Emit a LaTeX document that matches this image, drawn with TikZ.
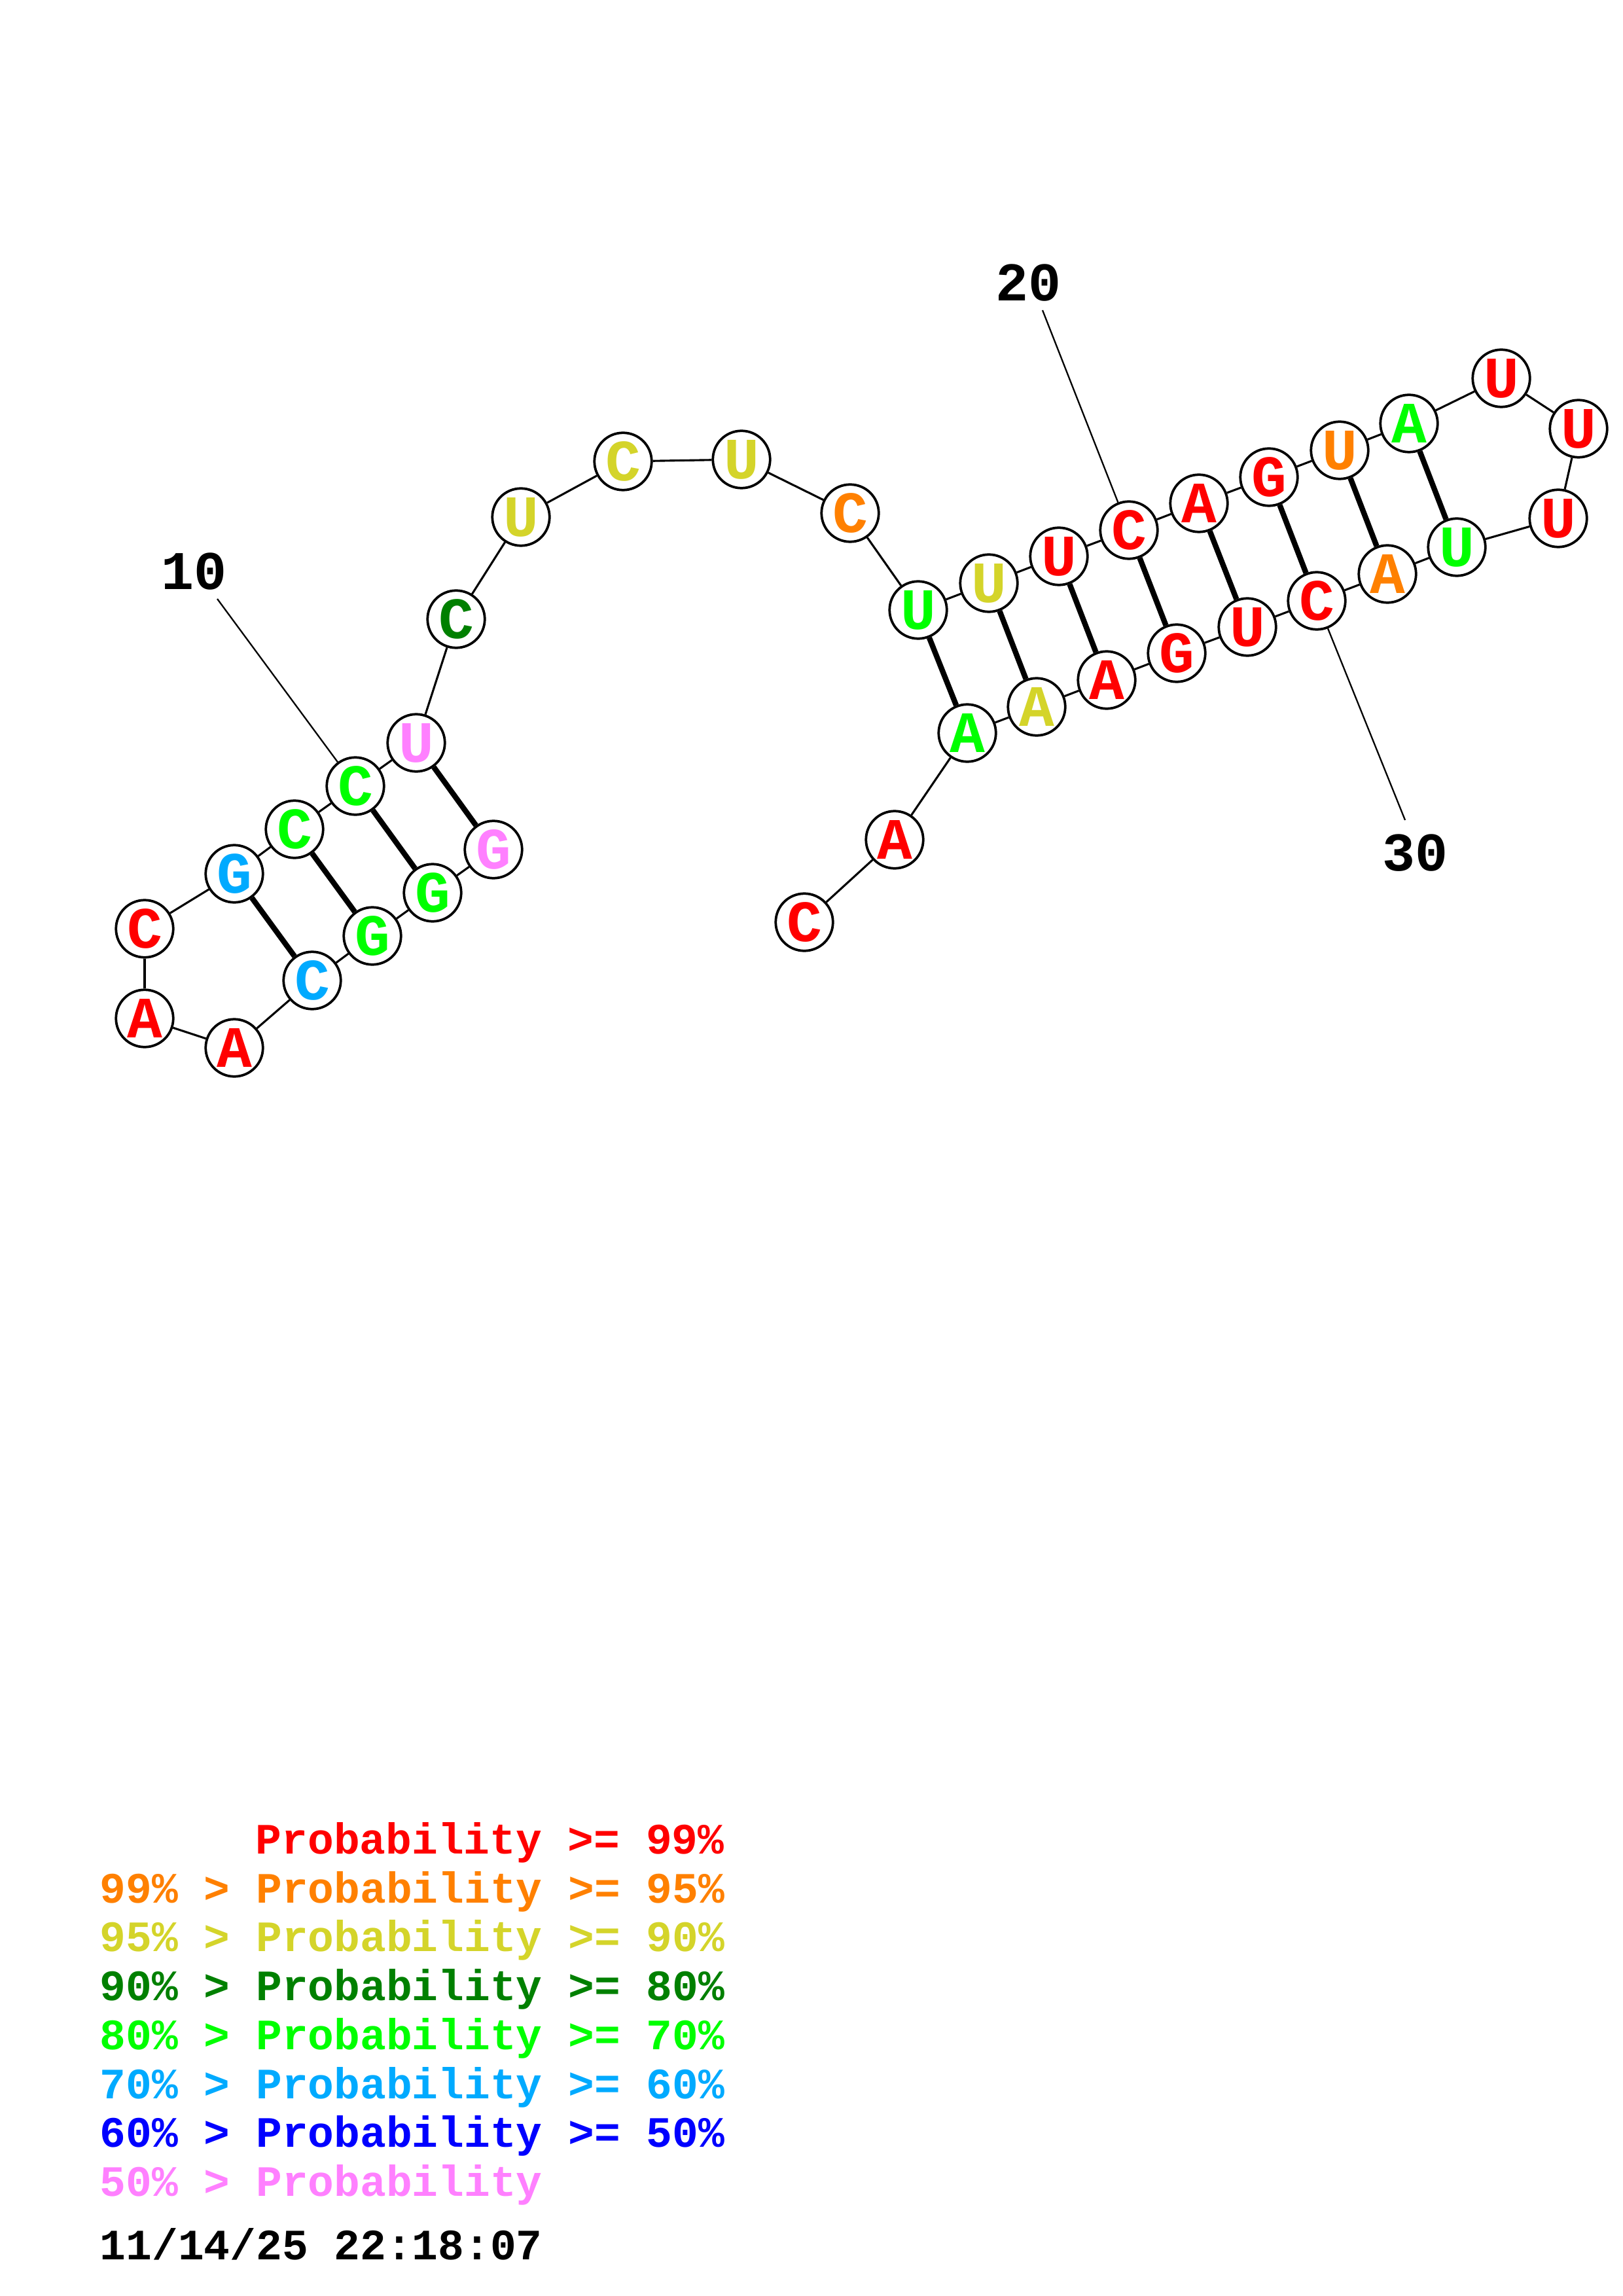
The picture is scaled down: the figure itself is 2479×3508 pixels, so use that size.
\documentclass[tikz,border=0pt]{standalone}
\usepackage{fontspec}
\newfontfamily\rnafont{Liberation Mono}
\definecolor{probred}{HTML}{FF0000}
\definecolor{probor}{HTML}{FF8000}
\definecolor{probyel}{HTML}{D4D42A}
\definecolor{probdkg}{HTML}{008000}
\definecolor{probgrn}{HTML}{00FF00}
\definecolor{probsky}{HTML}{00AAFF}
\definecolor{probblu}{HTML}{0000FF}
\definecolor{probpnk}{HTML}{FF80FF}

\begin{document}
\begin{tikzpicture}[x=0.24pt,y=-0.24pt]
\tikzset{
  nuc/.style={circle,draw,line width=0.9pt,fill=white,minimum size=21pt,inner sep=0pt,font=\rnafont\bfseries\fontsize{21.5}{21.5}\selectfont},
  backbone/.style={line width=0.75pt},
  pairing/.style={line width=2pt},
  numtick/.style={line width=0.55pt},
  numlabel/.style={inner sep=0pt,font=\rnafont\bfseries\fontsize{20}{20}\selectfont},
  legendline/.style={anchor=base west,inner sep=0pt,font=\rnafont\bfseries\fontsize{15.9}{15.9}\selectfont}
}
\useasboundingbox (0,0) rectangle (2479,3508);
\node[nuc,text=probpnk] (n_1) at (754,1298) {G};
\node[nuc,text=probgrn] (n_2) at (661,1364) {G};
\node[nuc,text=probgrn] (n_3) at (569,1430) {G};
\node[nuc,text=probsky] (n_4) at (477,1498) {C};
\node[nuc,text=probred] (n_5) at (358,1601) {A};
\node[nuc,text=probred] (n_6) at (221,1556) {A};
\node[nuc,text=probred] (n_7) at (221,1419) {C};
\node[nuc,text=probsky] (n_8) at (358,1335) {G};
\node[nuc,text=probgrn] (n_9) at (450,1267) {C};
\node[nuc,text=probgrn] (n_10) at (543,1201) {C};
\node[nuc,text=probpnk] (n_11) at (636,1135) {U};
\node[nuc,text=probdkg] (n_12) at (697,946) {C};
\node[nuc,text=probyel] (n_13) at (796,790) {U};
\node[nuc,text=probyel] (n_14) at (952,705) {C};
\node[nuc,text=probyel] (n_15) at (1133,702) {U};
\node[nuc,text=probor] (n_16) at (1299,784) {C};
\node[nuc,text=probgrn] (n_17) at (1403,932) {U};
\node[nuc,text=probyel] (n_18) at (1511,891) {U};
\node[nuc,text=probred] (n_19) at (1618,850) {U};
\node[nuc,text=probred] (n_20) at (1725,810) {C};
\node[nuc,text=probred] (n_21) at (1832,769) {A};
\node[nuc,text=probred] (n_22) at (1939,729) {G};
\node[nuc,text=probor] (n_23) at (2047,688) {U};
\node[nuc,text=probgrn] (n_24) at (2153,647) {A};
\node[nuc,text=probred] (n_25) at (2294,578) {U};
\node[nuc,text=probred] (n_26) at (2412,655) {U};
\node[nuc,text=probred] (n_27) at (2381,792) {U};
\node[nuc,text=probgrn] (n_28) at (2226,836) {U};
\node[nuc,text=probor] (n_29) at (2120,877) {A};
\node[nuc,text=probred] (n_30) at (2012,918) {C};
\node[nuc,text=probred] (n_31) at (1906,958) {U};
\node[nuc,text=probred] (n_32) at (1798,998) {G};
\node[nuc,text=probred] (n_33) at (1691,1039) {A};
\node[nuc,text=probyel] (n_34) at (1584,1080) {A};
\node[nuc,text=probgrn] (n_35) at (1478,1120) {A};
\node[nuc,text=probred] (n_36) at (1367,1283) {A};
\node[nuc,text=probred] (n_37) at (1229,1409) {C};
\draw[backbone] (n_1) -- (n_2);
\draw[backbone] (n_2) -- (n_3);
\draw[backbone] (n_3) -- (n_4);
\draw[backbone] (n_4) -- (n_5);
\draw[backbone] (n_5) -- (n_6);
\draw[backbone] (n_6) -- (n_7);
\draw[backbone] (n_7) -- (n_8);
\draw[backbone] (n_8) -- (n_9);
\draw[backbone] (n_9) -- (n_10);
\draw[backbone] (n_10) -- (n_11);
\draw[backbone] (n_11) -- (n_12);
\draw[backbone] (n_12) -- (n_13);
\draw[backbone] (n_13) -- (n_14);
\draw[backbone] (n_14) -- (n_15);
\draw[backbone] (n_15) -- (n_16);
\draw[backbone] (n_16) -- (n_17);
\draw[backbone] (n_17) -- (n_18);
\draw[backbone] (n_18) -- (n_19);
\draw[backbone] (n_19) -- (n_20);
\draw[backbone] (n_20) -- (n_21);
\draw[backbone] (n_21) -- (n_22);
\draw[backbone] (n_22) -- (n_23);
\draw[backbone] (n_23) -- (n_24);
\draw[backbone] (n_24) -- (n_25);
\draw[backbone] (n_25) -- (n_26);
\draw[backbone] (n_26) -- (n_27);
\draw[backbone] (n_27) -- (n_28);
\draw[backbone] (n_28) -- (n_29);
\draw[backbone] (n_29) -- (n_30);
\draw[backbone] (n_30) -- (n_31);
\draw[backbone] (n_31) -- (n_32);
\draw[backbone] (n_32) -- (n_33);
\draw[backbone] (n_33) -- (n_34);
\draw[backbone] (n_34) -- (n_35);
\draw[backbone] (n_35) -- (n_36);
\draw[backbone] (n_36) -- (n_37);
\draw[pairing] (n_1) -- (n_11);
\draw[pairing] (n_2) -- (n_10);
\draw[pairing] (n_3) -- (n_9);
\draw[pairing] (n_4) -- (n_8);
\draw[pairing] (n_17) -- (n_35);
\draw[pairing] (n_18) -- (n_34);
\draw[pairing] (n_19) -- (n_33);
\draw[pairing] (n_20) -- (n_32);
\draw[pairing] (n_21) -- (n_31);
\draw[pairing] (n_22) -- (n_30);
\draw[pairing] (n_23) -- (n_29);
\draw[pairing] (n_24) -- (n_28);
\node[numlabel] (lab_10) at (297,873) {10};
\node[numlabel] (lab_20) at (1571,432) {20};
\node[numlabel] (lab_30) at (2162,1303) {30};
\coordinate (tick_10) at (332,915);
\coordinate (tick_20) at (1593,474);
\coordinate (tick_30) at (2147,1253);
\draw[numtick] (n_10) -- (tick_10);
\draw[numtick] (n_20) -- (tick_20);
\draw[numtick] (n_30) -- (tick_30);
\node[legendline,text=probred] (leg_1) at (390,2832) {Probability >= 99\%};
\node[legendline,text=probor] (leg_2) at (152,2907) {99\% > Probability >= 95\%};
\node[legendline,text=probyel] (leg_3) at (152,2981) {95\% > Probability >= 90\%};
\node[legendline,text=probdkg] (leg_4) at (152,3056) {90\% > Probability >= 80\%};
\node[legendline,text=probgrn] (leg_5) at (152,3131) {80\% > Probability >= 70\%};
\node[legendline,text=probsky] (leg_6) at (152,3206) {70\% > Probability >= 60\%};
\node[legendline,text=probblu] (leg_7) at (152,3280) {60\% > Probability >= 50\%};
\node[legendline,text=probpnk] (leg_8) at (152,3355) {50\% > Probability};
\node[legendline] (leg_date) at (152,3452) {11/14/25 22:18:07};
\end{tikzpicture}
\end{document}
